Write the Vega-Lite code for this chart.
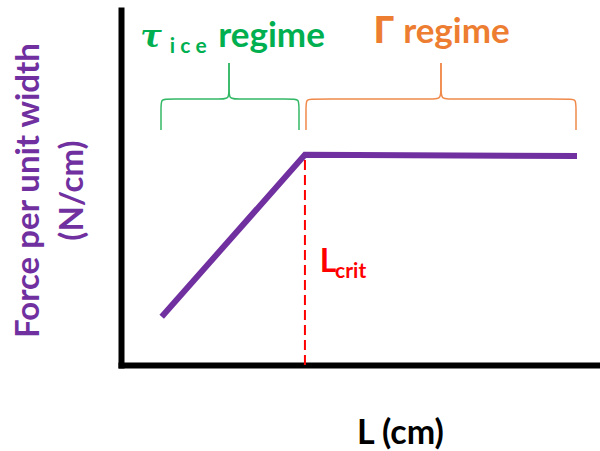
{
  "$schema": "https://vega.github.io/schema/vega-lite/v6.json",
  "width": 479,
  "height": 355,
  "autosize": {"type": "none"},
  "padding": {"left": 121, "top": 10, "right": 0, "bottom": 86},
  "config": {"view": {"stroke": null}, "font": "Lato"},
  "encoding": {
    "x": {"field": "u", "type": "quantitative", "scale": {"domain": [0, 100], "nice": false, "zero": false},
      "axis": {"domain": true, "domainWidth": 6, "domainColor": "#000000", "domainCap": "square", "ticks": false, "labels": false, "grid": false,
        "title": "L (cm)", "titleFont": "Lato", "titleFontSize": 34, "titleFontWeight": "bold", "titleColor": "#000000",
        "titleX": 279, "titleY": 78, "titleBaseline": "alphabetic", "titleAlign": "center"}},
    "y": {"field": "v", "type": "quantitative", "scale": {"domain": [0, 100], "nice": false, "zero": false},
      "axis": {"domain": true, "domainWidth": 6, "domainColor": "#000000", "domainCap": "square", "ticks": false, "labels": false, "grid": false,
        "title": ["Force per unit width", "(N/cm)"], "titleFont": "Lato", "titleFontSize": 33, "titleFontWeight": "bold", "titleColor": "#7030a0",
        "titleAngle": -90, "titleX": -93, "titleY": 180, "titleBaseline": "middle", "titleAlign": "center", "titleLineHeight": 44}}
  },
  "layer": [
    {
      "data": {"values": [
        {"brace": "tau", "part": "L", "i": 0, "u": 8.35, "v": 66.2},
        {"brace": "tau", "part": "L", "i": 1, "u": 8.35, "v": 72.4},
        {"brace": "tau", "part": "L", "i": 2, "u": 8.35, "v": 74.9},
        {"brace": "tau", "part": "L", "i": 3, "u": 9.8, "v": 74.9},
        {"brace": "tau", "part": "L", "i": 4, "u": 20.7, "v": 74.9},
        {"brace": "tau", "part": "L", "i": 5, "u": 22.55, "v": 74.9},
        {"brace": "tau", "part": "L", "i": 6, "u": 22.55, "v": 77.5},
        {"brace": "tau", "part": "L", "i": 7, "u": 22.55, "v": 85.1},
        {"brace": "tau", "part": "R", "i": 0, "u": 37.16, "v": 66.2},
        {"brace": "tau", "part": "R", "i": 1, "u": 37.16, "v": 72.4},
        {"brace": "tau", "part": "R", "i": 2, "u": 37.16, "v": 74.9},
        {"brace": "tau", "part": "R", "i": 3, "u": 35.7, "v": 74.9},
        {"brace": "tau", "part": "R", "i": 4, "u": 24.4, "v": 74.9},
        {"brace": "tau", "part": "R", "i": 5, "u": 22.55, "v": 74.9},
        {"brace": "tau", "part": "R", "i": 6, "u": 22.55, "v": 77.5},
        {"brace": "tau", "part": "R", "i": 7, "u": 22.55, "v": 85.1},
        {"brace": "gamma", "part": "L", "i": 0, "u": 38.62, "v": 66.2},
        {"brace": "gamma", "part": "L", "i": 1, "u": 38.62, "v": 72.4},
        {"brace": "gamma", "part": "L", "i": 2, "u": 38.62, "v": 74.9},
        {"brace": "gamma", "part": "L", "i": 3, "u": 40.1, "v": 74.9},
        {"brace": "gamma", "part": "L", "i": 4, "u": 64.5, "v": 74.9},
        {"brace": "gamma", "part": "L", "i": 5, "u": 66.8, "v": 74.9},
        {"brace": "gamma", "part": "L", "i": 6, "u": 66.8, "v": 77.5},
        {"brace": "gamma", "part": "L", "i": 7, "u": 66.8, "v": 85.1},
        {"brace": "gamma", "part": "R", "i": 0, "u": 94.99, "v": 66.2},
        {"brace": "gamma", "part": "R", "i": 1, "u": 94.99, "v": 72.4},
        {"brace": "gamma", "part": "R", "i": 2, "u": 94.99, "v": 74.9},
        {"brace": "gamma", "part": "R", "i": 3, "u": 93.5, "v": 74.9},
        {"brace": "gamma", "part": "R", "i": 4, "u": 69.1, "v": 74.9},
        {"brace": "gamma", "part": "R", "i": 5, "u": 66.8, "v": 74.9},
        {"brace": "gamma", "part": "R", "i": 6, "u": 66.8, "v": 77.5},
        {"brace": "gamma", "part": "R", "i": 7, "u": 66.8, "v": 85.1}
      ]},
      "mark": {"type": "line", "interpolate": "basis", "strokeWidth": 1.5},
      "encoding": {
        "color": {"field": "brace", "type": "nominal", "scale": {"domain": ["tau", "gamma"], "range": ["#33b865", "#f08a4b"]}, "legend": null},
        "detail": {"field": "part", "type": "nominal"},
        "order": {"field": "i", "type": "quantitative"}
      }
    },
    {
      "data": {"values": [{"u": 38.4, "v": 0, "v2": 59.2}]},
      "mark": {"type": "rule", "color": "#ff0000", "strokeWidth": 2, "strokeDash": [10, 5]},
      "encoding": {"y2": {"field": "v2"}}
    },
    {
      "data": {"values": [
        {"u": 8.5, "v": 13.6},
        {"u": 38.4, "v": 59.2},
        {"u": 95.2, "v": 58.9}
      ]},
      "mark": {"type": "line", "color": "#7030a0", "strokeWidth": 6, "strokeCap": "butt", "strokeJoin": "miter"}
    },
    {
      "data": {"values": [{"u": 41.5, "v": 26.2, "label": "L"}]},
      "mark": {"type": "text", "align": "left", "baseline": "alphabetic", "font": "Lato", "fontSize": 32, "fontWeight": "bold", "color": "#ff0000"},
      "encoding": {"text": {"field": "label"}}
    },
    {
      "data": {"values": [{"u": 44.7, "v": 24.5, "label": "crit"}]},
      "mark": {"type": "text", "align": "left", "baseline": "alphabetic", "font": "Lato", "fontSize": 21, "fontWeight": "bold", "color": "#ff0000"},
      "encoding": {"text": {"field": "label"}}
    },
    {
      "data": {"values": [{"u": 4.0, "v": 89.6, "label": "τ"}]},
      "mark": {"type": "text", "align": "left", "baseline": "alphabetic", "font": "DejaVu Serif", "fontSize": 32, "fontWeight": "bold", "fontStyle": "italic", "color": "#00b050"},
      "encoding": {"text": {"field": "label"}}
    },
    {
      "data": {"values": [{"u": 10.2, "v": 87.9, "label": "i c e"}]},
      "mark": {"type": "text", "align": "left", "baseline": "alphabetic", "font": "Lato", "fontSize": 21, "fontWeight": "bold", "color": "#00b050"},
      "encoding": {"text": {"field": "label"}}
    },
    {
      "data": {"values": [{"u": 20.3, "v": 89.6, "label": "regime"}]},
      "mark": {"type": "text", "align": "left", "baseline": "alphabetic", "font": "Lato", "fontSize": 35, "fontWeight": "bold", "color": "#00b050"},
      "encoding": {"text": {"field": "label"}}
    },
    {
      "data": {"values": [{"u": 52.6, "v": 90.7, "label": "Γ"}]},
      "mark": {"type": "text", "align": "left", "baseline": "alphabetic", "font": "Open Sans", "fontSize": 38, "fontWeight": "bold", "color": "#ed7d31"},
      "encoding": {"text": {"field": "label"}}
    },
    {
      "data": {"values": [{"u": 58.9, "v": 90.7, "label": "regime"}]},
      "mark": {"type": "text", "align": "left", "baseline": "alphabetic", "font": "Lato", "fontSize": 35, "fontWeight": "bold", "color": "#ed7d31"},
      "encoding": {"text": {"field": "label"}}
    }
  ]
}
